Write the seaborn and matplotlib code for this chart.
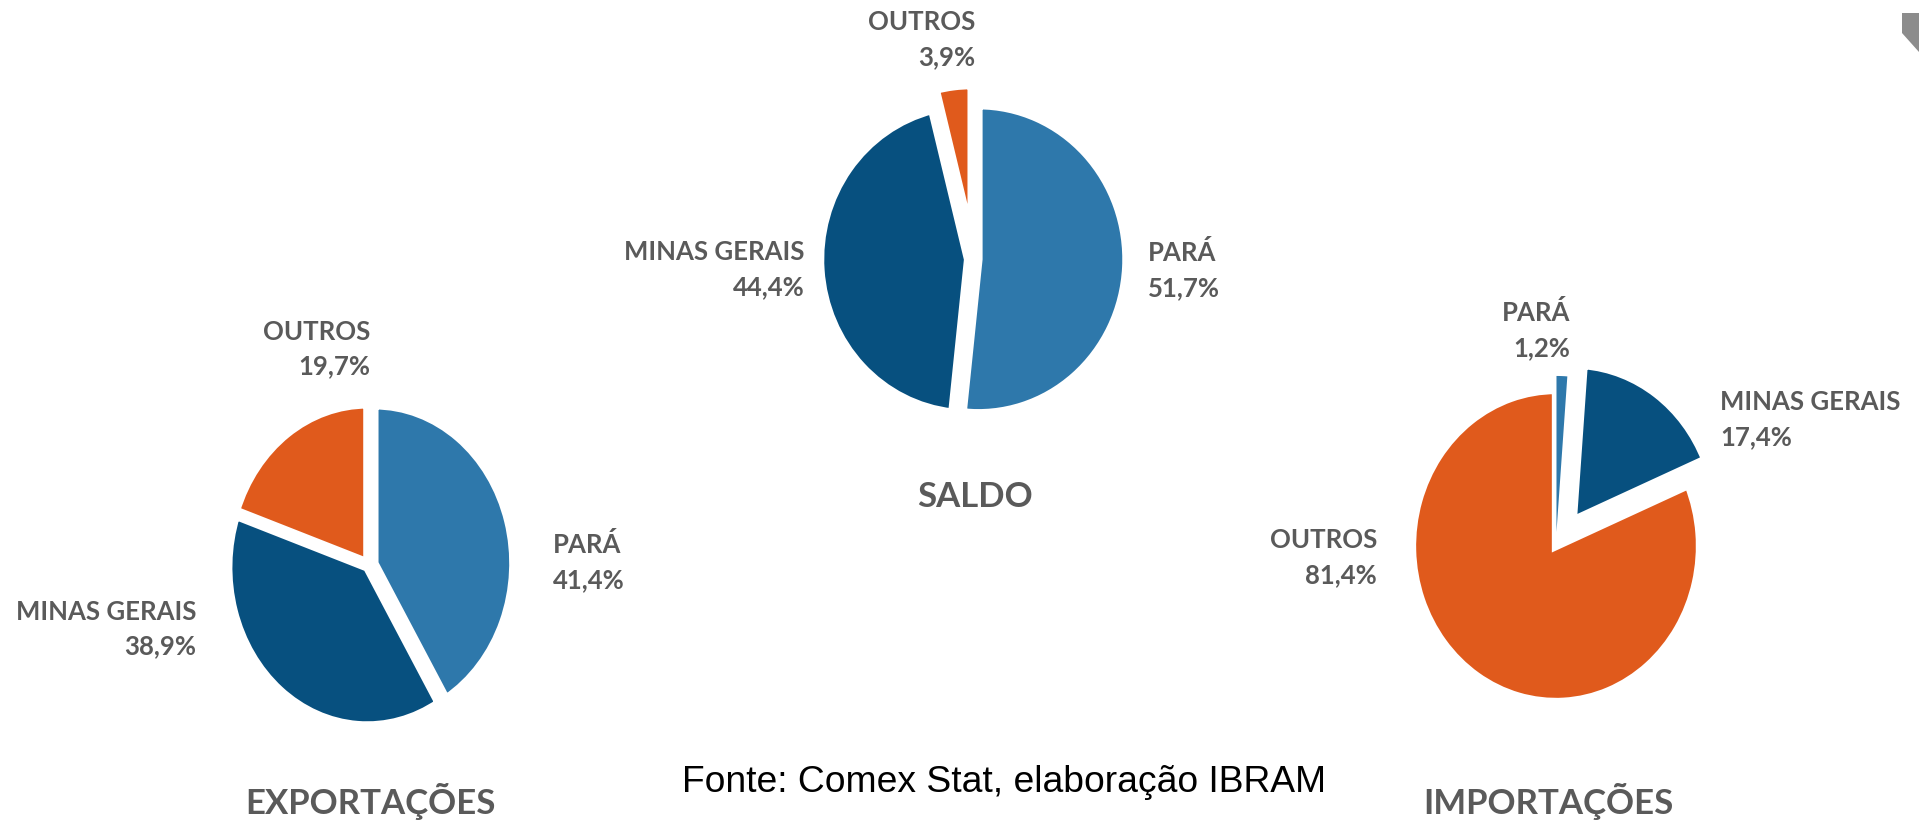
import matplotlib
matplotlib.use("Agg")
import matplotlib.pyplot as plt
from matplotlib.patches import Polygon
import seaborn as sns

sns.set_theme(style="white")
plt.rcParams['font.family'] = ['Lato', 'DejaVu Sans']

# data (percent shares, order: clockwise from 12 o'clock)
exp_labels = ['PARÁ', 'MINAS GERAIS', 'OUTROS']
exp_values = [41.4, 38.9, 19.7]
saldo_labels = ['PARÁ', 'MINAS GERAIS', 'OUTROS']
saldo_values = [51.7, 44.4, 3.9]
imp_labels = ['PARÁ', 'MINAS GERAIS', 'OUTROS']
imp_values = [1.2, 17.4, 81.4]
titles = ['EXPORTAÇÕES', 'SALDO', 'IMPORTAÇÕES']
source = 'Fonte: Comex Stat, elaboração IBRAM'

colors = {'PARÁ': '#2e78ab', 'MINAS GERAIS': '#07507f', 'OUTROS': '#e05a1c'}
txt_grey = '#5a5a5a'

W, H = 1919, 824
fig = plt.figure(figsize=(W / 100, H / 100), dpi=100)
fig.patch.set_facecolor('white')

LIM = 1.4


def pie_at(cx, cy, rx, ry, labels, values, explode, lw=5.5):
    # axes sized in pixels so that radius 1 == rx / ry pixels
    ax = fig.add_axes([(cx - rx * LIM) / W, (H - cy - ry * LIM) / H,
                       2 * rx * LIM / W, 2 * ry * LIM / H])
    wedges, _ = ax.pie(values, colors=[colors[l] for l in labels], startangle=90,
                       counterclock=False, explode=explode,
                       wedgeprops=dict(edgecolor='white', linewidth=lw))
    ax.set_aspect('auto')
    ax.set_xlim(-LIM, LIM)
    ax.set_ylim(-LIM, LIM)
    ax.axis('off')
    return wedges


def label(x, y, name, val, ha):
    fig.text(x / W, 1 - y / H, f'{name}\n{val:.1f}%'.replace('.', ','),
             ha=ha, va='center', multialignment=ha, fontsize=18.5,
             fontweight='bold', color=txt_grey, linespacing=1.55)


def title(x, y, s):
    fig.text(x / W, 1 - y / H, s, ha='center', va='center', fontsize=25,
             fontweight='bold', color=txt_grey)


# EXPORTAÇÕES
pie_at(369, 565, 139, 158, exp_labels, exp_values, [0.04, 0.02, 0.02], lw=6)
label(370, 349, exp_labels[2], exp_values[2], 'right')
label(553, 562, exp_labels[0], exp_values[0], 'left')
label(196, 629, exp_labels[1], exp_values[1], 'right')
title(370, 802, titles[0])

# SALDO
pie_at(974, 259, 148, 154, saldo_labels, saldo_values, [0.03, 0.04, 0.13], lw=6)
label(975, 40, saldo_labels[2], saldo_values[2], 'right')
label(805, 270, saldo_labels[1], saldo_values[1], 'right')
label(1148, 270, saldo_labels[0], saldo_values[0], 'left')
title(975, 497, titles[1])

# IMPORTAÇÕES
w_imp = pie_at(1556, 546, 144, 156, imp_labels, imp_values, [0.09, 0.2, 0.0], lw=6)
# keep the thin PARÁ sliver at full width, on top of its neighbours' white edges
w_imp[0].set_linewidth(0)
w_imp[0].set_zorder(3)
label(1570, 330, imp_labels[0], imp_values[0], 'right')
label(1720, 420, imp_labels[1], imp_values[1], 'left')
label(1377, 558, imp_labels[2], imp_values[2], 'right')
title(1548, 802, titles[2])

fig.text(682 / W, 1 - 783 / H, source, ha='left', va='center', fontsize=26.8,
         color='black', family=['Liberation Sans', 'DejaVu Sans'])

# grey corner mark at top right
corner = [(1902, 13), (1919, 13), (1919, 52), (1902, 33)]
fig.patches.append(Polygon([(x / W, 1 - y / H) for x, y in corner],
                           closed=True, transform=fig.transFigure,
                           facecolor='#8c8c8c', edgecolor='none'))

fig.savefig('out.png', dpi=100, facecolor='white')
